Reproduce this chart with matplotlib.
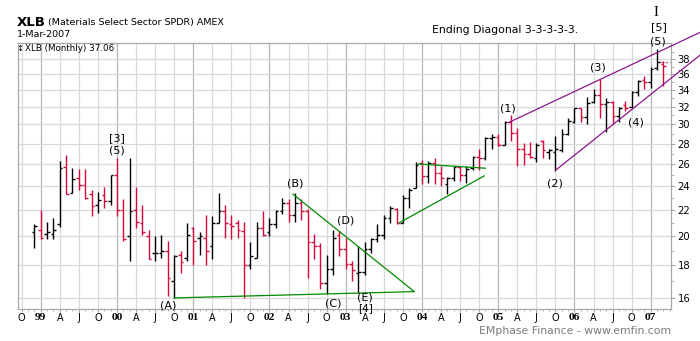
import numpy as np
import pandas as pd
import matplotlib
matplotlib.use("Agg")
import matplotlib.pyplot as plt
from matplotlib.ticker import FixedLocator, NullFormatter

# monthly OHLC, Dec 1998 .. Mar 2007
months = pd.period_range("1998-12", "2007-03", freq="M")
opens = [20.3, 20.5, 20.2, 20.2, 20.9, 25.7, 23.4, 24.7, 24.1, 23.3, 22.4, 23.2, 22.7,
         25.0, 22.0, 20.0, 22.0, 21.0, 20.0, 18.8, 18.8, 19.0, 17.0, 18.7, 18.5,
         20.6, 19.9, 19.9, 19.3, 21.0, 21.9, 20.9, 21.0, 20.4, 18.0, 18.5, 20.6,
         20.3, 20.9, 21.9, 22.6, 21.6, 22.6, 21.9, 19.6, 19.3, 16.9, 17.8, 20.1,
         19.1, 18.1, 17.5, 17.6, 19.1, 19.8, 20.1, 21.4, 22.1, 21.0, 23.0, 23.8,
         26.1, 24.9, 26.1, 25.2, 24.2, 24.7, 25.7, 25.0, 25.6, 26.7, 26.6, 28.6,
         28.7, 27.9, 30.3, 29.1, 27.4, 27.0, 26.6, 28.3, 27.2, 27.2, 27.3, 29.0,
         30.3, 31.8, 30.8, 32.5, 33.4, 32.3, 32.5, 30.9, 32.2, 32.0, 33.8, 35.2,
         35.0, 36.8, 37.4]
highs = [20.9, 22.0, 21.1, 21.4, 26.3, 26.9, 25.6, 25.5, 25.5, 23.7, 23.5, 23.9, 25.0,
         26.6, 22.9, 26.6, 23.9, 22.4, 20.5, 20.0, 20.1, 19.7, 18.7, 19.0, 21.0,
         20.7, 20.3, 21.6, 21.5, 23.4, 22.4, 21.6, 21.2, 21.1, 19.6, 21.1, 21.9,
         21.4, 22.0, 23.0, 22.9, 23.4, 22.9, 22.1, 20.2, 19.5, 18.7, 20.5, 20.4,
         19.9, 18.3, 19.3, 19.6, 19.9, 20.9, 21.6, 22.3, 22.2, 23.2, 23.8, 26.2,
         26.4, 26.3, 26.6, 25.8, 24.8, 25.8, 25.8, 25.8, 26.8, 27.4, 28.7, 29.0,
         29.0, 30.4, 31.0, 29.6, 28.1, 28.2, 28.1, 28.4, 27.4, 28.8, 29.5, 30.7,
         31.9, 31.9, 33.1, 34.1, 35.4, 33.0, 32.7, 32.0, 32.7, 33.9, 35.3, 35.8,
         37.0, 39.4, 37.7]
lows = [19.2, 19.8, 19.8, 19.8, 20.7, 23.3, 23.4, 23.7, 22.9, 21.5, 21.8, 22.2, 22.4,
        21.5, 19.7, 18.3, 20.6, 20.1, 18.4, 18.3, 18.5, 16.1, 16.0, 17.5, 18.3,
        18.0, 18.7, 18.0, 18.4, 21.0, 19.9, 19.8, 19.9, 16.0, 17.8, 18.5, 20.0,
        20.0, 20.6, 21.7, 21.1, 21.1, 21.2, 17.2, 18.4, 16.5, 16.2, 17.4, 18.6,
        17.8, 17.0, 16.3, 17.4, 18.8, 19.6, 19.8, 21.0, 20.9, 21.0, 22.2, 23.8,
        24.2, 24.3, 24.2, 24.0, 23.3, 24.4, 24.4, 24.3, 25.4, 25.4, 26.4, 27.4,
        27.7, 27.9, 28.3, 25.8, 25.9, 26.6, 26.2, 26.6, 26.5, 25.3, 27.2, 28.9,
        30.2, 30.3, 30.1, 32.4, 30.7, 29.2, 30.1, 30.3, 31.5, 31.8, 33.3, 34.1,
        34.3, 36.5, 34.5]
closes = [20.8, 19.9, 20.3, 20.5, 25.6, 23.3, 24.6, 24.1, 23.0, 22.3, 22.8, 22.7, 25.0,
          22.0, 19.8, 21.9, 21.1, 20.3, 18.4, 18.85, 19.0, 17.2, 18.6, 18.2, 20.1,
          19.7, 20.0, 19.0, 21.0, 21.9, 21.0, 20.8, 20.5, 18.0, 18.6, 20.6, 20.1,
          20.9, 21.9, 22.6, 21.6, 22.6, 21.9, 19.6, 19.3, 16.9, 17.8, 19.9, 19.1,
          18.1, 17.7, 17.6, 19.1, 19.8, 20.1, 21.4, 22.2, 21.0, 23.0, 23.7, 25.9,
          24.9, 26.1, 25.2, 24.7, 24.7, 25.7, 25.0, 25.5, 26.7, 26.6, 28.6, 28.7,
          27.9, 30.3, 29.1, 27.4, 27.0, 26.7, 27.9, 27.3, 27.3, 27.4, 29.0, 30.4,
          31.8, 30.8, 32.4, 33.4, 32.3, 32.5, 30.9, 31.8, 31.9, 33.8, 35.1, 35.0,
          36.7, 37.6, 37.06]

# trend lines: (month index, price) pairs, month index 0 = Jan 1999
green_lines = [((21.0, 16.0), (58.8, 16.37)),
               ((39.7, 23.3), (58.8, 16.37)),
               ((56.4, 21.0), (69.8, 24.9)),
               ((59.4, 26.0), (70.0, 25.6))]
purple_lines = [((73.6, 30.2), (103.8, 41.9)),
                ((81.0, 25.4), (103.8, 38.6))]

wave_labels = [("[3]", 12.0, 28.6), ("(5)", 12.0, 27.3), ("(A)", 20.1, 15.56),
               ("(B)", 40.0, 24.2), ("(C)", 46.05, 15.7), ("(D)", 48.0, 21.2),
               ("(E)", 51.0, 16.0), ("(1)", 73.5, 31.8),
               ("(2)", 81.0, 24.2), ("(3)", 87.7, 36.9), ("(4)", 93.7, 30.2),
               ("(5)", 97.2, 40.5)]
wave4_label = ("[4]", 51.2, 15.42)

yticks = [16, 18, 20, 22, 24, 26, 28, 30, 32, 34, 36, 38]
last_price = 37.06

W, H = 700, 341
def fx(px):
    return px / W
def fy(py):
    return 1 - py / H

x = np.array([(p.year - 1999) * 12 + p.month - 1 for p in months])
o, h, l, c = map(np.array, (opens, highs, lows, closes))
cols = np.where(c < o, "#d6083c", "black")

fig = plt.figure(figsize=(7, 3.41), dpi=100)
ax = fig.add_axes([fx(18.3), fy(309), fx(670.7 - 18.3), (309 - 42.7) / H])
ax.set_yscale("log")
ax.set_xlim(-3.53, 99.15)
ax.set_ylim(15.37, 40.35)

# grid
qpos = np.arange(-3, 99, 3)
for q in qpos:
    ax.axvline(q, color="#b4b4b4" if q % 12 == 0 else "#d9d9d9", lw=0.9, zorder=0)
for yt in yticks:
    ax.axhline(yt, color="#d9d9d9", lw=0.9, zorder=0)

# OHLC bars
tk = 0.42
ax.vlines(x, l, h, colors=cols, lw=1.0, zorder=3)
ax.hlines(o, x - tk, x, colors=cols, lw=1.0, zorder=3)
ax.hlines(c, x, x + tk, colors=cols, lw=1.0, zorder=3)
ax.hlines(closes[-2], x[-2] + tk, 99.15, colors="#c47a9a", lw=1.0,
          linestyles=(0, (2, 1.5)), zorder=2)

for (x0, y0), (x1, y1) in green_lines:
    ax.plot([x0, x1], [y0, y1], color="#008a00", lw=0.9, zorder=4)
for (x0, y0), (x1, y1) in purple_lines:
    ax.plot([x0, x1], [y0, y1], color="#8c168c", lw=0.9, zorder=4, clip_on=False)

for txt, mx, py in wave_labels:
    ax.text(mx, py, txt, ha="center", va="center", fontsize=8, color="black",
            zorder=5, clip_on=False)
ax.text(wave4_label[1], wave4_label[2], wave4_label[0], ha="center", va="center",
        fontsize=7.5, color="black", zorder=5, clip_on=False)

# axes styling
for s in ax.spines.values():
    s.set_color("#a8a8a8")
    s.set_linewidth(0.9)

ax.yaxis.tick_right()
ax.set_yticks(yticks)
ax.set_yticklabels([str(v) for v in yticks])
ax.yaxis.set_minor_locator(FixedLocator([v + 1 for v in yticks[:-1]] + [15, 39]))
ax.yaxis.set_minor_formatter(NullFormatter())
ax.tick_params(axis="y", which="major", length=3, color="#a8a8a8", labelsize=7.2, pad=2)
ax.tick_params(axis="y", which="minor", length=2, color="#a8a8a8")

xlabels = []
for q in qpos:
    mo = q % 12
    if mo == 0:
        xlabels.append("%02d" % ((1999 + q // 12) % 100))
    else:
        xlabels.append({3: "A", 6: "J", 9: "O"}[mo])
ax.set_xticks(qpos)
ax.set_xticklabels(xlabels)
ax.xaxis.set_minor_locator(FixedLocator(np.arange(-3, 100)))
ax.tick_params(axis="x", which="major", length=2, color="#a8a8a8", labelsize=7, pad=1.2)
ax.tick_params(axis="x", which="minor", length=1.5, color="#a8a8a8")
for lab, q in zip(ax.get_xticklabels(), qpos):
    if q % 12 == 0:
        lab.set_fontweight("bold")
        lab.set_family("Liberation Serif")
        lab.set_fontsize(8.2)

# header texts
fig.text(fx(17), fy(23), "XLB", fontsize=9.5, fontweight="bold", va="center", ha="left")
fig.text(fx(48), fy(23), "(Materials Select Sector SPDR) AMEX", fontsize=6.8,
         va="center", ha="left")
fig.text(fx(17), fy(34.5), "1-Mar-2007", fontsize=6.8, va="center", ha="left")
fig.text(fx(25), fy(48.5), "XLB (Monthly) %.2f" % last_price, fontsize=6.3,
         va="center", ha="left")
fig.text(fx(20), fy(48.5), "\u2195", fontsize=6, va="center", ha="center")
fig.text(fx(432), fy(30), "Ending Diagonal 3-3-3-3-3.", fontsize=7.8,
         va="center", ha="left")
fig.text(fx(659), fy(27.5), "[5]", fontsize=8, va="center", ha="center")
fig.text(fx(656), fy(13), "I", fontsize=10.5, family="Liberation Serif",
         va="center", ha="center")
fig.text(fx(670.7), fy(330.5), "EMphase Finance - www.emfin.com", fontsize=7.8,
         color="#7a7a7a", va="center", ha="right")

fig.savefig("out.png", dpi=100)
